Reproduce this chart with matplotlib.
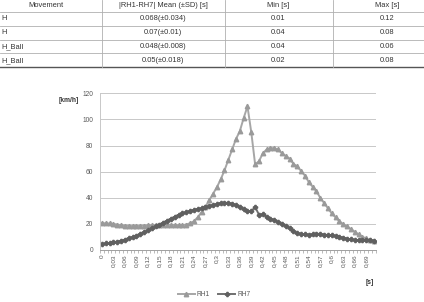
import matplotlib
matplotlib.use("Agg")
import matplotlib.pyplot as plt
import numpy as np
from matplotlib.lines import Line2D

plt.rcParams['font.family'] = ['Liberation Sans', 'DejaVu Sans']

# ---- table data ----
table_header = ["Movement", "|RH1-RH7| Mean (\u00b1SD) [s]", "Min [s]", "Max [s]"]
table_movement = ["H", "H", "H_Ball", "H_Ball"]
table_mean = ["0.068(\u00b10.034)", "0.07(\u00b10.01)", "0.048(\u00b10.008)", "0.05(\u00b10.018)"]
table_min = ["0.01", "0.04", "0.04", "0.02"]
table_max = ["0.12", "0.08", "0.06", "0.08"]

# ---- chart data ----
rh1 = [20.5, 20.5, 20.3, 20.0, 19.5, 19.0, 18.7, 18.5, 18.3, 18.3,
       18.5, 18.7, 19.0, 19.0, 19.2, 19.3, 19.5, 19.5, 19.3, 19.2,
       19.0, 19.0, 19.5, 20.5, 22.0, 25.0, 29.0, 33.0, 38.0, 43.0,
       48.0, 54.0, 61.0, 69.0, 77.0, 85.0, 91.0, 101.0, 110.0, 90.0,
       65.5, 68.0, 74.0, 77.0, 78.0, 78.0, 77.0, 74.0, 72.0, 70.0,
       66.0, 64.0, 60.5, 57.0, 52.0, 48.5, 45.0, 40.0, 36.0, 32.0,
       28.0, 25.0, 22.0, 19.7, 18.0, 16.0, 14.0, 12.0, 10.0, 9.0,
       7.7, 7.0]
rh7 = [4.5, 5.0, 5.3, 6.0, 6.5, 7.2, 8.0, 9.0, 10.0, 11.0,
       12.3, 13.7, 15.0, 16.5, 18.0, 19.5, 21.0, 22.5, 24.0, 25.5,
       27.0, 28.0, 29.0, 30.0, 30.8, 31.5, 32.0, 33.0, 33.8, 34.5,
       35.3, 36.0, 36.3, 36.0, 35.5, 34.5, 33.0, 31.5, 30.0, 29.5,
       33.0, 27.0, 27.5, 25.5, 24.0, 23.0, 21.5, 20.0, 18.5, 16.5,
       14.5, 13.0, 12.3, 12.0, 11.8, 12.0, 12.5, 12.3, 11.8, 11.5,
       11.2, 10.8, 10.2, 9.5, 8.8, 8.2, 7.7, 7.5, 7.4, 7.8,
       7.5, 7.0]
x_tick_labels = ["0", "0,03", "0,06", "0,09", "0,12", "0,15", "0,18", "0,21",
                 "0,24", "0,27", "0,3", "0,33", "0,36", "0,39", "0,42", "0,45",
                 "0,48", "0,51", "0,54", "0,57", "0,6", "0,63", "0,66", "0,69"]
y_ticks = [0, 20, 40, 60, 80, 100, 120]

W, H = 424, 302
fig = plt.figure(figsize=(W / 100, H / 100), dpi=100)

def fx(px):
    return px / W

def fy(py):
    return 1 - py / H

# ---- table ----
tcol = "#333333"
fs_t = 5.4
for yl in [12.3, 26, 39.7, 53.3]:
    fig.add_artist(Line2D([0, 1], [fy(yl), fy(yl)], color="#b0b0b0", lw=0.6))
fig.add_artist(Line2D([0, 1], [fy(66.7), fy(66.7)], color="#555555", lw=1.0))
for xl in [102, 225, 333]:
    fig.add_artist(Line2D([fx(xl), fx(xl)], [fy(0), fy(66.7)], color="#b0b0b0", lw=0.6))

header_x = [45.7, 163, 278, 387]
for hx, t in zip(header_x, table_header):
    fig.text(fx(hx), fy(5.5), t, ha="center", va="center", fontsize=fs_t, color=tcol)
row_y = [19, 33, 46.5, 60.5]
for i, ry in enumerate(row_y):
    fig.text(fx(1), fy(ry), table_movement[i], ha="left", va="center", fontsize=fs_t, color=tcol)
    fig.text(fx(163), fy(ry), table_mean[i], ha="center", va="center", fontsize=fs_t, color=tcol)
    fig.text(fx(278), fy(ry), table_min[i], ha="center", va="center", fontsize=fs_t, color=tcol)
    fig.text(fx(387), fy(ry), table_max[i], ha="center", va="center", fontsize=fs_t, color=tcol)

# ---- chart ----
left, right, top, bottom = 100, 375.8, 93.3, 250
ax = fig.add_axes([fx(left), fy(bottom), (right - left) / W, (bottom - top) / H])
x = np.arange(len(rh1))
ax.plot(x, rh1, color="#a6a6a6", lw=1.4, marker="^", ms=3.2, mec="#9a9a9a", mfc="#9a9a9a", label="RH1")
ax.plot(x, rh7, color="#707070", lw=1.4, marker="P", ms=3.0, mec="#606060", mfc="#606060", label="RH7")
ax.set_xlim(-0.5, len(rh1) - 0.5)
ax.set_ylim(0, 120)
ax.set_yticks(y_ticks)
ax.yaxis.grid(True, color="#c8c8c8", lw=0.7)
ax.set_axisbelow(True)
for s in ["top", "right"]:
    ax.spines[s].set_visible(False)
ax.spines["left"].set_color("#c8c8c8")
ax.spines["left"].set_linewidth(0.7)
ax.spines["bottom"].set_color("#a0a0a0")
ax.spines["bottom"].set_linewidth(0.7)
ax.tick_params(axis="y", length=0, labelsize=4.8, labelcolor="#595959", pad=5)
ax.set_xticks(np.arange(0, len(rh1), 3)[:len(x_tick_labels)])
ax.set_xticklabels(x_tick_labels, rotation=90, fontsize=4.6, color="#595959")
ax.set_xticks(np.arange(-0.5, len(rh1), 1), minor=True)
ax.tick_params(axis="x", which="major", length=0, pad=3)
ax.tick_params(axis="x", which="minor", length=2, width=0.5, color="#a0a0a0")

fig.text(fx(79), fy(100), "[km/h]", ha="right", va="center", fontsize=4.8, fontweight="bold", color="#333333")
fig.text(fx(370), fy(282), "[s]", ha="center", va="center", fontsize=4.8, fontweight="bold", color="#333333")

fig.legend(loc="center", bbox_to_anchor=(fx(214), fy(295)), ncol=2, frameon=False,
           fontsize=4.8, handlelength=2.6, columnspacing=1.2, handletextpad=0.3,
           labelcolor="#595959")

fig.savefig("out.png", dpi=100)
